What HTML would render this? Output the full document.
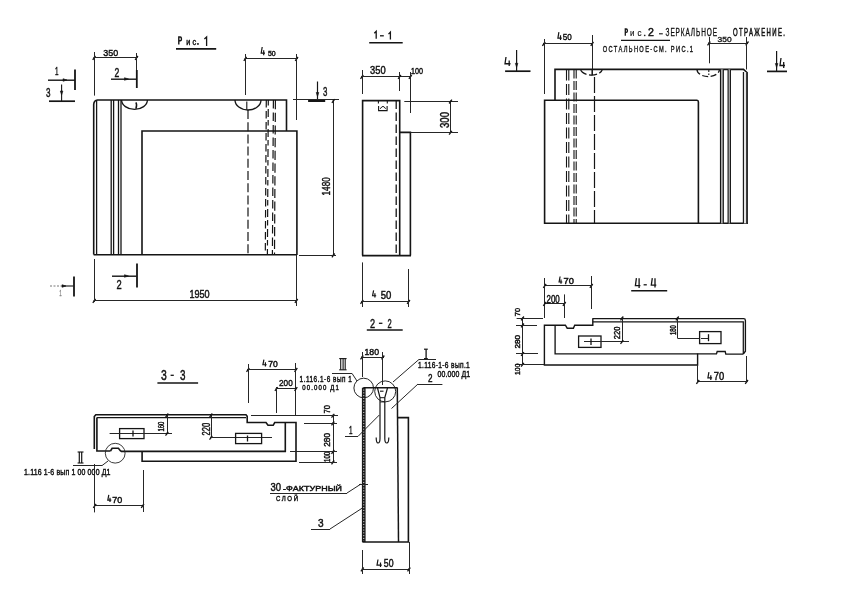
<!DOCTYPE html>
<html><head><meta charset="utf-8"><title>drawing</title>
<style>
html,body{margin:0;padding:0;background:#fff;}
body{width:851px;height:592px;overflow:hidden;}
svg{display:block;will-change:transform;}
text{font-family:"Liberation Sans",sans-serif;}
</style></head>
<body>
<svg width="851" height="592" viewBox="0 0 851 592" stroke-linecap="butt">
<rect x="0" y="0" width="851" height="592" fill="#fff"/>
<path d="M178.8,44.6 L178.8,37 L180.2,37 Q181.4,37 181.4,38.4 L181.4,39.4 Q181.4,40.8 180.2,40.8 L178.8,40.8" stroke="#151515" stroke-width="1.4" fill="none"/>
<text transform="translate(186.2,44.8) scale(0.778,1)" x="0" y="0" font-size="9.43" textLength="5.27" lengthAdjust="spacingAndGlyphs" fill="#111" stroke="#111" stroke-width="0.45" font-weight="normal">и</text>
<text transform="translate(192.6,44.8) scale(0.784,1)" x="0" y="0" font-size="9.43" textLength="4.72" lengthAdjust="spacingAndGlyphs" fill="#111" stroke="#111" stroke-width="0.45" font-weight="normal">с</text>
<rect x="197.6" y="43.6" width="1" height="1" stroke="#151515" stroke-width="0.6" fill="#151515"/>
<path d="M204.4,39 L206.6,37 L206.6,45.9" stroke="#151515" stroke-width="1.3" fill="none"/>
<line x1="176" y1="48.9" x2="216.2" y2="48.9" stroke="#151515" stroke-width="1.6"/>
<line x1="94.2" y1="57.5" x2="137.2" y2="57.5" stroke="#262626" stroke-width="1.0"/>
<line x1="92.7" y1="59.8" x2="95.5" y2="56" stroke="#151515" stroke-width="1.3"/>
<circle cx="94.2" cy="57.5" r="0.8" fill="#151515"/>
<line x1="135.1" y1="59.8" x2="137.9" y2="56" stroke="#151515" stroke-width="1.3"/>
<circle cx="136.6" cy="57.5" r="0.8" fill="#151515"/>
<text transform="translate(103.2,55.7) scale(0.929,1)" x="0" y="0" font-size="9.61" textLength="16.04" lengthAdjust="spacing" fill="#111" stroke="#111" stroke-width="0.45" font-weight="normal">350</text>
<line x1="94.5" y1="52" x2="94.5" y2="95.6" stroke="#262626" stroke-width="1.0"/>
<line x1="136.5" y1="53" x2="136.5" y2="70" stroke="#262626" stroke-width="1.0"/>
<line x1="48" y1="80.2" x2="75" y2="80.2" stroke="#151515" stroke-width="1.4"/>
<path d="M63,78.7 L67,80 L63,81.3 Z" stroke="#151515" stroke-width="0.6" fill="#151515"/>
<line x1="75" y1="69.5" x2="75" y2="90" stroke="#151515" stroke-width="1.8"/>
<text transform="translate(55,75) scale(0.572,1)" x="0" y="0" font-size="11" textLength="6.12" lengthAdjust="spacing" fill="#111" stroke="#111" stroke-width="0.45" font-weight="normal">1</text>
<line x1="49" y1="101.2" x2="75" y2="101.2" stroke="#151515" stroke-width="1.7"/>
<line x1="61.6" y1="84.5" x2="61.6" y2="101" stroke="#151515" stroke-width="1.1"/>
<path d="M60.3,91 L61.6,95 L62.9,91 Z" stroke="#151515" stroke-width="0.6" fill="#151515"/>
<text transform="translate(46,97) scale(0.678,1)" x="0" y="0" font-size="11.93" textLength="6.63" lengthAdjust="spacing" fill="#111" stroke="#111" stroke-width="0.45" font-weight="normal">3</text>
<line x1="111" y1="79.2" x2="136.5" y2="79.2" stroke="#151515" stroke-width="1.4"/>
<path d="M124.5,77.7 L128.5,79 L124.5,80.3 Z" stroke="#151515" stroke-width="0.6" fill="#151515"/>
<line x1="136.8" y1="70" x2="136.8" y2="88" stroke="#151515" stroke-width="1.8"/>
<text transform="translate(114.6,77) scale(0.724,1)" x="0" y="0" font-size="11.93" textLength="6.63" lengthAdjust="spacing" fill="#111" stroke="#111" stroke-width="0.45" font-weight="normal">2</text>
<line x1="245.3" y1="58.5" x2="297.5" y2="58.5" stroke="#262626" stroke-width="1.0"/>
<line x1="243.8" y1="60.8" x2="246.6" y2="57" stroke="#151515" stroke-width="1.3"/>
<circle cx="245.3" cy="58.5" r="0.8" fill="#151515"/>
<line x1="295.2" y1="60.8" x2="298" y2="57" stroke="#151515" stroke-width="1.3"/>
<circle cx="296.7" cy="58.5" r="0.8" fill="#151515"/>
<path d="M262.2,47 L261.2,53.15 L265,53.15 M263.7,50.28 L263.7,55.2" stroke="#151515" stroke-width="1.2" fill="none"/>
<text transform="translate(267.9,55.5) scale(0.892,1)" x="0" y="0" font-size="7.76" textLength="8.63" lengthAdjust="spacing" fill="#111" stroke="#111" stroke-width="0.45" font-weight="normal">50</text>
<line x1="245.5" y1="54" x2="245.5" y2="95" stroke="#262626" stroke-width="1.0"/>
<line x1="296.5" y1="54" x2="296.5" y2="120" stroke="#262626" stroke-width="1.0"/>
<line x1="308.1" y1="101" x2="325.2" y2="101" stroke="#151515" stroke-width="2.0"/>
<line x1="317.5" y1="81.5" x2="317.5" y2="100" stroke="#151515" stroke-width="1.2"/>
<path d="M316.2,92.5 L317.5,96.5 L318.8,92.5 Z" stroke="#151515" stroke-width="0.6" fill="#151515"/>
<text transform="translate(323,96) scale(0.608,1)" x="0" y="0" font-size="13.01" textLength="7.23" lengthAdjust="spacing" fill="#111" stroke="#111" stroke-width="0.45" font-weight="normal">3</text>
<line x1="293" y1="99.5" x2="339" y2="99.5" stroke="#262626" stroke-width="1.0"/>
<line x1="333.5" y1="100.4" x2="333.5" y2="255" stroke="#262626" stroke-width="1.0"/>
<line x1="331.9" y1="102.9" x2="334.7" y2="99.1" stroke="#151515" stroke-width="1.3"/>
<circle cx="333.4" cy="100.6" r="0.8" fill="#151515"/>
<line x1="331.9" y1="257.3" x2="334.7" y2="253.5" stroke="#151515" stroke-width="1.3"/>
<circle cx="333.4" cy="255" r="0.8" fill="#151515"/>
<text transform="translate(329.9,195.4) rotate(-90) scale(0.691,1)" x="0" y="0" font-size="11.77" textLength="26.19" lengthAdjust="spacing" fill="#111" stroke="#111" stroke-width="0.45" font-weight="normal">1480</text>
<line x1="299" y1="255.5" x2="336" y2="255.5" stroke="#262626" stroke-width="1.0"/>
<path d="M93.7,254.6 L93.7,104.5 Q94,100.3 97.5,100 L286.5,100 L286.5,131" stroke="#151515" stroke-width="1.6" fill="none"/>
<line x1="96.6" y1="100" x2="96.6" y2="254.6" stroke="#151515" stroke-width="1.3"/>
<line x1="111.2" y1="100" x2="111.2" y2="254.6" stroke="#151515" stroke-width="1.3"/>
<line x1="113.6" y1="100" x2="113.6" y2="254.6" stroke="#151515" stroke-width="1.3"/>
<line x1="118.5" y1="100" x2="118.5" y2="254.6" stroke="#151515" stroke-width="1.3"/>
<line x1="121" y1="100" x2="121" y2="254.6" stroke="#151515" stroke-width="1.3"/>
<path d="M142,254.6 L142,131 L296.9,131 L296.9,255" stroke="#151515" stroke-width="1.6" fill="none"/>
<line x1="93.6" y1="254.8" x2="296.9" y2="254.8" stroke="#151515" stroke-width="1.6"/>
<path d="M121.6,100 A12.9,9.4 0 0 0 147.4,100" stroke="#151515" stroke-width="1.3" fill="none"/>
<path d="M135.9,102.3 Q137.3,104.5 135.9,108.8" stroke="#151515" stroke-width="1.5" fill="none"/>
<path d="M235,100 A13,10 0 0 0 261,100" stroke="#151515" stroke-width="1.3" fill="none"/>
<line x1="246.8" y1="101.5" x2="246.8" y2="109.5" stroke="#151515" stroke-width="1.1"/>
<line x1="248" y1="110" x2="248" y2="254.6" stroke="#151515" stroke-width="1.2" stroke-dasharray="9 3.2"/>
<line x1="266.3" y1="100" x2="265.3" y2="254.6" stroke="#151515" stroke-width="1.2" stroke-dasharray="7.5 3.5"/>
<line x1="268.3" y1="100" x2="267.4" y2="254.6" stroke="#151515" stroke-width="1.2" stroke-dasharray="5.5 3.5 8 3"/>
<line x1="273.4" y1="100" x2="272.4" y2="254.6" stroke="#151515" stroke-width="1.2" stroke-dasharray="8.5 4"/>
<line x1="275.4" y1="100" x2="274.5" y2="254.6" stroke="#151515" stroke-width="1.2" stroke-dasharray="9.2 3.5"/>
<line x1="112" y1="276.2" x2="136.5" y2="276.2" stroke="#151515" stroke-width="1.4"/>
<path d="M124.5,274.7 L128.5,276 L124.5,277.3 Z" stroke="#151515" stroke-width="0.6" fill="#151515"/>
<line x1="137" y1="263.6" x2="137" y2="287.6" stroke="#151515" stroke-width="1.8"/>
<text transform="translate(116.4,289) scale(0.694,1)" x="0" y="0" font-size="13.47" textLength="7.49" lengthAdjust="spacing" fill="#111" stroke="#111" stroke-width="0.45" font-weight="normal">2</text>
<line x1="50" y1="286" x2="62.5" y2="286" stroke="#777" stroke-width="1.0" stroke-dasharray="2 1.5"/>
<line x1="62.5" y1="286" x2="73.5" y2="286" stroke="#151515" stroke-width="1.1"/>
<path d="M62,284.7 L66,286 L62,287.3 Z" stroke="#151515" stroke-width="0.6" fill="#151515"/>
<line x1="74" y1="276.6" x2="74" y2="296.4" stroke="#151515" stroke-width="1.8"/>
<text transform="translate(59.5,295.6) scale(0.437,1)" x="0" y="0" font-size="8.22" textLength="4.57" lengthAdjust="spacing" fill="#888" stroke="#888" stroke-width="0.45" font-weight="normal">1</text>
<line x1="94" y1="300.5" x2="296.4" y2="300.5" stroke="#262626" stroke-width="1.0"/>
<line x1="92.8" y1="302.8" x2="95.6" y2="299" stroke="#151515" stroke-width="1.3"/>
<circle cx="94.3" cy="300.5" r="0.8" fill="#151515"/>
<line x1="294.9" y1="302.8" x2="297.7" y2="299" stroke="#151515" stroke-width="1.3"/>
<circle cx="296.4" cy="300.5" r="0.8" fill="#151515"/>
<text transform="translate(189.4,297.9) scale(0.775,1)" x="0" y="0" font-size="11.77" textLength="26.19" lengthAdjust="spacing" fill="#111" stroke="#111" stroke-width="0.45" font-weight="normal">1950</text>
<line x1="94.5" y1="259" x2="94.5" y2="302" stroke="#262626" stroke-width="1.0"/>
<line x1="296.5" y1="255" x2="296.5" y2="306" stroke="#262626" stroke-width="1.0"/>
<path d="M374.3,33.3 L376.2,31.3 L376.2,38.7" stroke="#151515" stroke-width="1.3" fill="none"/>
<line x1="380" y1="35.8" x2="383.8" y2="35.8" stroke="#151515" stroke-width="1.3"/>
<path d="M388.5,34.1 L390.4,32.1 L390.4,39.5" stroke="#151515" stroke-width="1.3" fill="none"/>
<line x1="369.2" y1="42.7" x2="402.7" y2="42.7" stroke="#151515" stroke-width="1.5"/>
<line x1="362" y1="76.5" x2="410.4" y2="76.5" stroke="#262626" stroke-width="1.0"/>
<line x1="360.5" y1="78.8" x2="363.3" y2="75" stroke="#151515" stroke-width="1.3"/>
<circle cx="362" cy="76.5" r="0.8" fill="#151515"/>
<line x1="398.1" y1="78.8" x2="400.9" y2="75" stroke="#151515" stroke-width="1.3"/>
<circle cx="399.6" cy="76.5" r="0.8" fill="#151515"/>
<line x1="408.9" y1="78.8" x2="411.7" y2="75" stroke="#151515" stroke-width="1.3"/>
<circle cx="410.4" cy="76.5" r="0.8" fill="#151515"/>
<text transform="translate(370,74) scale(0.900,1)" x="0" y="0" font-size="10.38" textLength="17.32" lengthAdjust="spacing" fill="#111" stroke="#111" stroke-width="0.45" font-weight="normal">350</text>
<text transform="translate(411,74) scale(0.814,1)" x="0" y="0" font-size="8.84" textLength="14.75" lengthAdjust="spacing" fill="#111" stroke="#111" stroke-width="0.45" font-weight="normal">100</text>
<line x1="362.5" y1="70" x2="362.5" y2="94" stroke="#262626" stroke-width="1.0"/>
<line x1="399.5" y1="72" x2="399.5" y2="91" stroke="#262626" stroke-width="1.0"/>
<line x1="410.5" y1="72" x2="410.5" y2="113" stroke="#262626" stroke-width="1.0"/>
<path d="M362.6,255.6 L362.6,100.6 L399.7,100.6 L399.7,255.6" stroke="#151515" stroke-width="1.6" fill="none"/>
<line x1="396.2" y1="100.6" x2="396.2" y2="255.6" stroke="#151515" stroke-width="1.3" stroke-dasharray="8.5 3.5"/>
<path d="M399.7,132.4 L410.4,132.4 L410.4,255.6" stroke="#151515" stroke-width="1.6" fill="none"/>
<line x1="362" y1="255.6" x2="411" y2="255.6" stroke="#151515" stroke-width="1.6"/>
<line x1="378.4" y1="100.6" x2="378.4" y2="103.5" stroke="#151515" stroke-width="1.1"/>
<line x1="387.3" y1="100.6" x2="387.3" y2="103.5" stroke="#151515" stroke-width="1.1"/>
<path d="M378.6,106 L378.6,110.6 L387.1,110.6 L387.1,106" stroke="#151515" stroke-width="1.1" fill="none"/>
<path d="M380.3,108.8 Q383,104 385.6,108.8" stroke="#151515" stroke-width="1.0" fill="none"/>
<line x1="404.3" y1="101.5" x2="458" y2="101.5" stroke="#262626" stroke-width="1.0"/>
<line x1="450.5" y1="101.2" x2="450.5" y2="132.3" stroke="#262626" stroke-width="1.0"/>
<line x1="449.1" y1="103.5" x2="451.9" y2="99.7" stroke="#151515" stroke-width="1.3"/>
<circle cx="450.6" cy="101.2" r="0.8" fill="#151515"/>
<line x1="449.1" y1="134.6" x2="451.9" y2="130.8" stroke="#151515" stroke-width="1.3"/>
<circle cx="450.6" cy="132.3" r="0.8" fill="#151515"/>
<line x1="410.4" y1="132.5" x2="458" y2="132.5" stroke="#262626" stroke-width="1.0"/>
<text transform="translate(449,128) rotate(-90) scale(0.804,1)" x="0" y="0" font-size="11.93" textLength="19.9" lengthAdjust="spacing" fill="#111" stroke="#111" stroke-width="0.45" font-weight="normal">300</text>
<line x1="362" y1="301.5" x2="408.6" y2="301.5" stroke="#262626" stroke-width="1.0"/>
<line x1="360.5" y1="303.8" x2="363.3" y2="300" stroke="#151515" stroke-width="1.3"/>
<circle cx="362" cy="301.5" r="0.8" fill="#151515"/>
<line x1="407.1" y1="303.8" x2="409.9" y2="300" stroke="#151515" stroke-width="1.3"/>
<circle cx="408.6" cy="301.5" r="0.8" fill="#151515"/>
<path d="M373.6,290.4 L372.6,295.73 L376.2,295.73 M374.9,293.24 L374.9,297.5" stroke="#151515" stroke-width="1.2" fill="none"/>
<text transform="translate(380.7,298.5) scale(0.918,1)" x="0" y="0" font-size="10.38" textLength="11.55" lengthAdjust="spacing" fill="#111" stroke="#111" stroke-width="0.45" font-weight="normal">50</text>
<line x1="362.5" y1="262.4" x2="362.5" y2="307" stroke="#262626" stroke-width="1.0"/>
<line x1="408.5" y1="269" x2="408.5" y2="307" stroke="#262626" stroke-width="1.0"/>
<path d="M625.3,35.8 L625.3,29 L626.2,29 Q627.4,29 627.4,30.4 L627.4,31 Q627.4,32.4 626.2,32.4 L625.3,32.4" stroke="#151515" stroke-width="1.3" fill="none"/>
<text transform="translate(630,36.1) scale(0.850,1)" x="0" y="0" font-size="9.39" textLength="6.47" lengthAdjust="spacing" fill="#111" stroke="#111" stroke-width="0.15" font-weight="normal">и</text>
<text transform="translate(637.5,36.1) scale(0.850,1)" x="0" y="0" font-size="9.39" textLength="5.65" lengthAdjust="spacing" fill="#111" stroke="#111" stroke-width="0.15" font-weight="normal">с</text>
<rect x="644.2" y="35" width="0.9" height="0.9" stroke="#151515" stroke-width="0.5" fill="#151515"/>
<text transform="translate(648,36.1) scale(0.917,1)" x="0" y="0" font-size="11.57" textLength="6.44" lengthAdjust="spacing" fill="#111" stroke="#111" stroke-width="0.5" font-weight="normal">2</text>
<line x1="659" y1="33.8" x2="662.8" y2="33.8" stroke="#151515" stroke-width="1.1"/>
<text transform="translate(665.6,36.1) scale(0.600,1)" x="0" y="0" font-size="10.82" textLength="85.67" lengthAdjust="spacing" fill="#111" stroke="#111" stroke-width="0.35" font-weight="normal">ЗЕРКАЛЬНОЕ</text>
<text transform="translate(733,36.2) scale(0.580,1)" x="0" y="0" font-size="10.31" textLength="89.48" lengthAdjust="spacing" fill="#111" stroke="#111" stroke-width="0.55" font-weight="normal">ОТРАЖЕНИЕ.</text>
<line x1="621" y1="40.4" x2="670" y2="40.4" stroke="#151515" stroke-width="1.2"/>
<text transform="translate(602.8,51.6) scale(0.600,1)" x="0" y="0" font-size="9.51" textLength="150.33" lengthAdjust="spacing" fill="#111" stroke="#111" stroke-width="0.4" font-weight="normal">ОСТАЛЬНОЕ-СМ. РИС.1</text>
<line x1="505.1" y1="71.2" x2="530.5" y2="71.2" stroke="#151515" stroke-width="1.7"/>
<line x1="516.6" y1="50" x2="516.6" y2="71" stroke="#151515" stroke-width="1.2"/>
<path d="M515.3,63.3 L516.6,67.3 L517.9,63.3 Z" stroke="#151515" stroke-width="0.6" fill="#151515"/>
<path d="M506,57 L505,63.75 L510.5,63.75 M509.2,60.6 L509.2,66" stroke="#151515" stroke-width="1.3" fill="none"/>
<line x1="767" y1="71.4" x2="787" y2="71.4" stroke="#151515" stroke-width="1.7"/>
<line x1="776.6" y1="51" x2="776.6" y2="71" stroke="#151515" stroke-width="1.2"/>
<path d="M775.3,63.5 L776.6,67.5 L777.9,63.5 Z" stroke="#151515" stroke-width="0.6" fill="#151515"/>
<path d="M781,58 L780,65.5 L785,65.5 M783.7,62 L783.7,68" stroke="#151515" stroke-width="1.3" fill="none"/>
<line x1="543.6" y1="43.5" x2="592.2" y2="43.5" stroke="#262626" stroke-width="1.0"/>
<line x1="542.4" y1="45.8" x2="545.2" y2="42" stroke="#151515" stroke-width="1.3"/>
<circle cx="543.9" cy="43.5" r="0.8" fill="#151515"/>
<line x1="590.7" y1="45.8" x2="593.5" y2="42" stroke="#151515" stroke-width="1.3"/>
<circle cx="592.2" cy="43.5" r="0.8" fill="#151515"/>
<path d="M558.9,32.2 L557.9,38.05 L561.8,38.05 M560.5,35.32 L560.5,40" stroke="#151515" stroke-width="1.2" fill="none"/>
<text transform="translate(562.8,40) scale(0.842,1)" x="0" y="0" font-size="9.61" textLength="10.69" lengthAdjust="spacing" fill="#111" stroke="#111" stroke-width="0.45" font-weight="normal">50</text>
<line x1="544.5" y1="39" x2="544.5" y2="94" stroke="#262626" stroke-width="1.0"/>
<line x1="592.5" y1="35" x2="592.5" y2="75" stroke="#262626" stroke-width="1.0"/>
<line x1="709" y1="43.5" x2="747.4" y2="43.5" stroke="#262626" stroke-width="1.0"/>
<line x1="707.5" y1="45.3" x2="710.3" y2="41.5" stroke="#151515" stroke-width="1.3"/>
<circle cx="709" cy="43" r="0.8" fill="#151515"/>
<line x1="745.7" y1="45.3" x2="748.5" y2="41.5" stroke="#151515" stroke-width="1.3"/>
<circle cx="747.2" cy="43" r="0.8" fill="#151515"/>
<text transform="translate(717.6,41.9) scale(1.160,1)" x="0" y="0" font-size="7.28" textLength="12.15" lengthAdjust="spacing" fill="#111" stroke="#111" stroke-width="0.3" font-weight="normal">350</text>
<line x1="709.5" y1="37" x2="709.5" y2="63.3" stroke="#262626" stroke-width="1.0"/>
<line x1="746.5" y1="37" x2="746.5" y2="69.5" stroke="#262626" stroke-width="1.0"/>
<path d="M555,100.3 L555,69.4 L743.5,69.4 L747,72.5 L747,224" stroke="#151515" stroke-width="1.6" fill="none"/>
<path d="M544.6,224 L544.6,100.3 L697,100.3" stroke="#151515" stroke-width="1.6" fill="none"/>
<path d="M697,100.3 Q698.4,100.4 698.4,102 L698.4,224" stroke="#151515" stroke-width="1.6" fill="none"/>
<line x1="544" y1="223.2" x2="747.5" y2="223.2" stroke="#151515" stroke-width="1.6"/>
<rect x="720.5" y="69.4" width="2.8" height="154" fill="#b8b8b8"/>
<line x1="720.5" y1="69.4" x2="720.5" y2="223.4" stroke="#151515" stroke-width="1.15"/>
<line x1="723.3" y1="69.4" x2="723.3" y2="223.4" stroke="#151515" stroke-width="1.15"/>
<rect x="728.1" y="69.4" width="2.3" height="154" fill="#c0c0c0"/>
<line x1="728.1" y1="69.4" x2="728.1" y2="223.4" stroke="#151515" stroke-width="1.15"/>
<line x1="730.4" y1="69.4" x2="730.4" y2="223.4" stroke="#151515" stroke-width="1.15"/>
<rect x="743.4" y="72" width="3.4" height="151.4" fill="#e4e4e4"/>
<line x1="743.4" y1="72" x2="743.4" y2="223.4" stroke="#151515" stroke-width="1.15"/>
<line x1="746.8" y1="72" x2="746.8" y2="223.4" stroke="#151515" stroke-width="1.15"/>
<path d="M580.6,69.4 A11,6.5 0 0 0 602.4,69.4" stroke="#151515" stroke-width="1.3" fill="none" stroke-dasharray="8 2.5"/>
<line x1="592" y1="69.6" x2="592" y2="75.5" stroke="#151515" stroke-width="1.1"/>
<path d="M697,69.4 A11.2,7.2 0 0 0 719.4,69.4" stroke="#151515" stroke-width="1.3" fill="none" stroke-dasharray="6 2.5"/>
<line x1="708.8" y1="69.6" x2="708.8" y2="75" stroke="#151515" stroke-width="1.1" stroke-dasharray="2.5 1.5"/>
<line x1="566.5" y1="69.4" x2="566.5" y2="223.6" stroke="#151515" stroke-width="1.1" stroke-dasharray="11 3.5"/>
<line x1="568.8" y1="69.4" x2="568.8" y2="223.6" stroke="#151515" stroke-width="1.1" stroke-dasharray="11 3.5"/>
<line x1="574" y1="69.4" x2="574" y2="223.6" stroke="#151515" stroke-width="1.1" stroke-dasharray="9 2.5"/>
<line x1="576.2" y1="69.4" x2="576.2" y2="223.6" stroke="#151515" stroke-width="1.1" stroke-dasharray="9 2.5"/>
<line x1="594.5" y1="77" x2="594.5" y2="223.6" stroke="#151515" stroke-width="1.2" stroke-dasharray="16 3"/>
<path d="M636.4,278.2 L635.4,285.55 L640.4,285.55 M639.1,278.2 L639.1,288" stroke="#151515" stroke-width="1.3" fill="none"/>
<line x1="643.6" y1="284.8" x2="646.8" y2="284.8" stroke="#151515" stroke-width="1.3"/>
<path d="M652.3,278.2 L651.3,285.18 L656.3,285.18 M655,278.2 L655,287.5" stroke="#151515" stroke-width="1.3" fill="none"/>
<line x1="631.2" y1="290.8" x2="667.2" y2="290.8" stroke="#151515" stroke-width="1.5"/>
<line x1="544.3" y1="285.5" x2="591.9" y2="285.5" stroke="#262626" stroke-width="1.0"/>
<line x1="543.3" y1="287.8" x2="546.1" y2="284" stroke="#151515" stroke-width="1.3"/>
<circle cx="544.8" cy="285.5" r="0.8" fill="#151515"/>
<line x1="589.9" y1="287.8" x2="592.7" y2="284" stroke="#151515" stroke-width="1.3"/>
<circle cx="591.4" cy="285.5" r="0.8" fill="#151515"/>
<path d="M560.1,276.5 L559.1,281.98 L562.3,281.98 M561,279.42 L561,283.8" stroke="#151515" stroke-width="1.2" fill="none"/>
<text transform="translate(563.6,284.1) scale(1.076,1)" x="0" y="0" font-size="8.69" textLength="9.66" lengthAdjust="spacing" fill="#111" stroke="#111" stroke-width="0.45" font-weight="normal">70</text>
<line x1="544.5" y1="278" x2="544.5" y2="318" stroke="#262626" stroke-width="1.0"/>
<line x1="591.5" y1="276" x2="591.5" y2="309" stroke="#262626" stroke-width="1.0"/>
<line x1="544.3" y1="303.5" x2="564.4" y2="303.5" stroke="#262626" stroke-width="1.0"/>
<line x1="543.3" y1="305.8" x2="546.1" y2="302" stroke="#151515" stroke-width="1.3"/>
<circle cx="544.8" cy="303.5" r="0.8" fill="#151515"/>
<line x1="562.9" y1="305.8" x2="565.7" y2="302" stroke="#151515" stroke-width="1.3"/>
<circle cx="564.4" cy="303.5" r="0.8" fill="#151515"/>
<text transform="translate(546.5,302.9) scale(0.779,1)" x="0" y="0" font-size="10.23" textLength="17.07" lengthAdjust="spacing" fill="#111" stroke="#111" stroke-width="0.45" font-weight="normal">200</text>
<line x1="564.5" y1="294.4" x2="564.5" y2="318" stroke="#262626" stroke-width="1.0"/>
<line x1="522.5" y1="318" x2="522.5" y2="365" stroke="#262626" stroke-width="1.0"/>
<line x1="521.1" y1="320.3" x2="523.9" y2="316.5" stroke="#151515" stroke-width="1.3"/>
<circle cx="522.6" cy="318" r="0.8" fill="#151515"/>
<line x1="521.1" y1="327.3" x2="523.9" y2="323.5" stroke="#151515" stroke-width="1.3"/>
<circle cx="522.6" cy="325" r="0.8" fill="#151515"/>
<line x1="521.1" y1="355.9" x2="523.9" y2="352.1" stroke="#151515" stroke-width="1.3"/>
<circle cx="522.6" cy="353.6" r="0.8" fill="#151515"/>
<line x1="521.1" y1="366.7" x2="523.9" y2="362.9" stroke="#151515" stroke-width="1.3"/>
<circle cx="522.6" cy="364.4" r="0.8" fill="#151515"/>
<line x1="516.6" y1="318.5" x2="543" y2="318.5" stroke="#262626" stroke-width="1.0"/>
<line x1="516" y1="325.5" x2="537" y2="325.5" stroke="#262626" stroke-width="1.0"/>
<line x1="516" y1="353.5" x2="538" y2="353.5" stroke="#262626" stroke-width="1.0"/>
<line x1="516" y1="364.5" x2="545" y2="364.5" stroke="#262626" stroke-width="1.0"/>
<text transform="translate(520.3,316.2) rotate(-90) scale(1.130,1)" x="0" y="0" font-size="6.53" textLength="7.26" lengthAdjust="spacing" fill="#111" stroke="#111" stroke-width="0.45" font-weight="normal">70</text>
<text transform="translate(519.9,348.6) rotate(-90) scale(1.149,1)" x="0" y="0" font-size="7.14" textLength="11.92" lengthAdjust="spacing" fill="#111" stroke="#111" stroke-width="0.45" font-weight="normal">280</text>
<text transform="translate(519.9,375) rotate(-90) scale(0.965,1)" x="0" y="0" font-size="7.14" textLength="11.92" lengthAdjust="spacing" fill="#111" stroke="#111" stroke-width="0.45" font-weight="normal">100</text>
<path d="M592.8,318.6 L743.6,318.6 Q745.4,318.6 745.4,320.4 L745.4,351.2 L743.3,354" stroke="#151515" stroke-width="1.35" fill="none"/>
<path d="M592.8,321.8 L743.3,321.8 L743.3,354" stroke="#151515" stroke-width="1.25" fill="none"/>
<path d="M592.8,318.2 L592.8,325.2 L574.7,325.2 L573.4,328.2 L567.2,328.2 L565.4,325.2 L544.4,325.2 L544.4,365 L697.6,365 L697.6,353.4" stroke="#151515" stroke-width="1.4" fill="none"/>
<path d="M555.1,325.2 L555.1,353.8 L716.5,353.8 L717.2,351.5 L725.2,351.5 L725.8,354.1 L743.3,354.1" stroke="#151515" stroke-width="1.35" fill="none"/>
<rect x="578.6" y="336" width="22.4" height="11.4" stroke="#151515" stroke-width="1.3" fill="none"/>
<line x1="584" y1="341.5" x2="629" y2="341.5" stroke="#262626" stroke-width="1.0"/>
<line x1="591" y1="338.5" x2="591" y2="345" stroke="#151515" stroke-width="1.3"/>
<line x1="622.5" y1="318" x2="622.5" y2="341.6" stroke="#262626" stroke-width="1.0"/>
<line x1="620.5" y1="320.3" x2="623.3" y2="316.5" stroke="#151515" stroke-width="1.3"/>
<circle cx="622" cy="318" r="0.8" fill="#151515"/>
<line x1="620.5" y1="343.9" x2="623.3" y2="340.1" stroke="#151515" stroke-width="1.3"/>
<circle cx="622" cy="341.6" r="0.8" fill="#151515"/>
<text transform="translate(620,339.3) rotate(-90) scale(0.846,1)" x="0" y="0" font-size="8.99" textLength="15.01" lengthAdjust="spacing" fill="#111" stroke="#111" stroke-width="0.45" font-weight="normal">220</text>
<rect x="699.6" y="331.6" width="21.4" height="12" stroke="#151515" stroke-width="1.3" fill="none"/>
<line x1="708.5" y1="334.2" x2="708.5" y2="341.2" stroke="#151515" stroke-width="1.3"/>
<line x1="701" y1="338.5" x2="708" y2="338.5" stroke="#262626" stroke-width="1.0"/>
<line x1="677.5" y1="318" x2="677.5" y2="338" stroke="#262626" stroke-width="1.0"/>
<line x1="675.9" y1="320.3" x2="678.7" y2="316.5" stroke="#151515" stroke-width="1.3"/>
<circle cx="677.4" cy="318" r="0.8" fill="#151515"/>
<line x1="677.4" y1="338.5" x2="699.6" y2="338.5" stroke="#262626" stroke-width="1.0"/>
<text transform="translate(675.5,335) rotate(-90) scale(0.653,1)" x="0" y="0" font-size="8.99" textLength="15.01" lengthAdjust="spacing" fill="#111" stroke="#111" stroke-width="0.45" font-weight="normal">180</text>
<line x1="697.6" y1="381.5" x2="746.7" y2="381.5" stroke="#262626" stroke-width="1.0"/>
<line x1="696.4" y1="383.8" x2="699.2" y2="380" stroke="#151515" stroke-width="1.3"/>
<circle cx="697.9" cy="381.5" r="0.8" fill="#151515"/>
<line x1="745.2" y1="383.8" x2="748" y2="380" stroke="#151515" stroke-width="1.3"/>
<circle cx="746.7" cy="381.5" r="0.8" fill="#151515"/>
<line x1="697.5" y1="365" x2="697.5" y2="383" stroke="#262626" stroke-width="1.0"/>
<line x1="746.5" y1="356" x2="746.5" y2="383" stroke="#262626" stroke-width="1.0"/>
<path d="M708.9,372.1 L707.9,377.95 L712.1,377.95 M710.8,375.22 L710.8,379.9" stroke="#151515" stroke-width="1.2" fill="none"/>
<text transform="translate(713.7,379.9) scale(0.928,1)" x="0" y="0" font-size="10.07" textLength="11.21" lengthAdjust="spacing" fill="#111" stroke="#111" stroke-width="0.45" font-weight="normal">70</text>
<text transform="translate(161.1,380) scale(0.732,1)" x="0" y="0" font-size="14.24" textLength="7.92" lengthAdjust="spacing" fill="#111" stroke="#111" stroke-width="0.45" font-weight="normal">3</text>
<line x1="170.6" y1="375.3" x2="173.8" y2="375.3" stroke="#151515" stroke-width="1.3"/>
<text transform="translate(179.9,380) scale(0.673,1)" x="0" y="0" font-size="14.7" textLength="8.18" lengthAdjust="spacing" fill="#111" stroke="#111" stroke-width="0.45" font-weight="normal">3</text>
<line x1="157.4" y1="382.9" x2="198.1" y2="382.9" stroke="#151515" stroke-width="1.5"/>
<line x1="248" y1="369.5" x2="296.2" y2="369.5" stroke="#262626" stroke-width="1.0"/>
<line x1="246.5" y1="371.8" x2="249.3" y2="368" stroke="#151515" stroke-width="1.3"/>
<circle cx="248" cy="369.5" r="0.8" fill="#151515"/>
<line x1="294.5" y1="371.8" x2="297.3" y2="368" stroke="#151515" stroke-width="1.3"/>
<circle cx="296" cy="369.5" r="0.8" fill="#151515"/>
<path d="M263.9,359.6 L262.9,364.77 L266.7,364.77 M265.4,362.36 L265.4,366.5" stroke="#151515" stroke-width="1.2" fill="none"/>
<text transform="translate(268.3,366.5) scale(1.001,1)" x="0" y="0" font-size="8.53" textLength="9.49" lengthAdjust="spacing" fill="#111" stroke="#111" stroke-width="0.45" font-weight="normal">70</text>
<line x1="248.5" y1="364" x2="248.5" y2="403" stroke="#262626" stroke-width="1.0"/>
<line x1="295.5" y1="363" x2="295.5" y2="415" stroke="#262626" stroke-width="1.0"/>
<line x1="276.4" y1="388.5" x2="296" y2="388.5" stroke="#262626" stroke-width="1.0"/>
<line x1="274.9" y1="390.9" x2="277.7" y2="387.1" stroke="#151515" stroke-width="1.3"/>
<circle cx="276.4" cy="388.6" r="0.8" fill="#151515"/>
<line x1="294.5" y1="390.9" x2="297.3" y2="387.1" stroke="#151515" stroke-width="1.3"/>
<circle cx="296" cy="388.6" r="0.8" fill="#151515"/>
<text transform="translate(279,386.3) scale(0.854,1)" x="0" y="0" font-size="9.61" textLength="16.04" lengthAdjust="spacing" fill="#111" stroke="#111" stroke-width="0.45" font-weight="normal">200</text>
<line x1="276.5" y1="387" x2="276.5" y2="413" stroke="#262626" stroke-width="1.0"/>
<path d="M94.3,449 L94.3,416.5 L95.8,414.8 L246,414.8 L247.2,416.3 L247.2,422.5 L266,422.5 L268,425.3 L273.2,425.3 L274.7,422.5 L296,422.5 L296,461.2 L142.1,461.2 L142.1,451.4" stroke="#151515" stroke-width="1.6" fill="none"/>
<path d="M96.9,417.6 L246,417.6" stroke="#151515" stroke-width="1.2" fill="none"/>
<path d="M96.9,417.6 L96.9,451 L110.5,451" stroke="#151515" stroke-width="1.6" fill="none"/>
<path d="M110.5,451 L112.1,448.3 L118.4,448.3 L121,451.4" stroke="#151515" stroke-width="1.6" fill="none"/>
<path d="M121,451.4 L285.3,451.4 L285.3,422.5" stroke="#151515" stroke-width="1.6" fill="none"/>
<circle cx="115.2" cy="453.2" r="9.9" stroke="#262626" stroke-width="0.9" fill="none"/>
<rect x="119.6" y="428.6" width="24.4" height="10" stroke="#151515" stroke-width="1.3" fill="none"/>
<line x1="109.6" y1="433.5" x2="172" y2="433.5" stroke="#262626" stroke-width="1.0"/>
<line x1="133" y1="430.5" x2="133" y2="436.5" stroke="#151515" stroke-width="1.3"/>
<line x1="167.5" y1="415" x2="167.5" y2="433.4" stroke="#262626" stroke-width="1.0"/>
<line x1="165.5" y1="417.3" x2="168.3" y2="413.5" stroke="#151515" stroke-width="1.3"/>
<circle cx="167" cy="415" r="0.8" fill="#151515"/>
<line x1="165.5" y1="435.7" x2="168.3" y2="431.9" stroke="#151515" stroke-width="1.3"/>
<circle cx="167" cy="433.4" r="0.8" fill="#151515"/>
<text transform="translate(164.1,431.6) rotate(-90) scale(0.722,1)" x="0" y="0" font-size="8.22" textLength="13.72" lengthAdjust="spacing" fill="#111" stroke="#111" stroke-width="0.45" font-weight="normal">160</text>
<line x1="211.5" y1="415" x2="211.5" y2="437.4" stroke="#262626" stroke-width="1.0"/>
<line x1="209.5" y1="417.3" x2="212.3" y2="413.5" stroke="#151515" stroke-width="1.3"/>
<circle cx="211" cy="415" r="0.8" fill="#151515"/>
<line x1="209.5" y1="439.7" x2="212.3" y2="435.9" stroke="#151515" stroke-width="1.3"/>
<circle cx="211" cy="437.4" r="0.8" fill="#151515"/>
<text transform="translate(209.5,435.4) rotate(-90) scale(0.722,1)" x="0" y="0" font-size="10.54" textLength="17.58" lengthAdjust="spacing" fill="#111" stroke="#111" stroke-width="0.45" font-weight="normal">220</text>
<line x1="210" y1="437.5" x2="272" y2="437.5" stroke="#262626" stroke-width="1.0"/>
<rect x="235.6" y="433.4" width="26" height="10.2" stroke="#151515" stroke-width="1.3" fill="none"/>
<line x1="247.5" y1="435.5" x2="247.5" y2="441.5" stroke="#151515" stroke-width="1.3"/>
<line x1="333.5" y1="415.4" x2="333.5" y2="463" stroke="#262626" stroke-width="1.0"/>
<line x1="331.5" y1="417.7" x2="334.3" y2="413.9" stroke="#151515" stroke-width="1.3"/>
<circle cx="333" cy="415.4" r="0.8" fill="#151515"/>
<line x1="331.5" y1="425.3" x2="334.3" y2="421.5" stroke="#151515" stroke-width="1.3"/>
<circle cx="333" cy="423" r="0.8" fill="#151515"/>
<line x1="331.5" y1="453.8" x2="334.3" y2="450" stroke="#151515" stroke-width="1.3"/>
<circle cx="333" cy="451.5" r="0.8" fill="#151515"/>
<line x1="331.5" y1="464.3" x2="334.3" y2="460.5" stroke="#151515" stroke-width="1.3"/>
<circle cx="333" cy="462" r="0.8" fill="#151515"/>
<line x1="251" y1="415.5" x2="338" y2="415.5" stroke="#262626" stroke-width="1.0"/>
<line x1="304" y1="423.5" x2="337" y2="423.5" stroke="#262626" stroke-width="1.0"/>
<line x1="290" y1="451.5" x2="337" y2="451.5" stroke="#262626" stroke-width="1.0"/>
<line x1="299" y1="462.5" x2="337" y2="462.5" stroke="#262626" stroke-width="1.0"/>
<text transform="translate(329.5,413.4) rotate(-90) scale(0.840,1)" x="0" y="0" font-size="8.99" textLength="10.01" lengthAdjust="spacing" fill="#111" stroke="#111" stroke-width="0.45" font-weight="normal">70</text>
<text transform="translate(329.5,446.8) rotate(-90) scale(0.926,1)" x="0" y="0" font-size="8.99" textLength="15.01" lengthAdjust="spacing" fill="#111" stroke="#111" stroke-width="0.45" font-weight="normal">280</text>
<text transform="translate(329.5,461.9) rotate(-90) scale(0.736,1)" x="0" y="0" font-size="8.22" textLength="13.72" lengthAdjust="spacing" fill="#111" stroke="#111" stroke-width="0.45" font-weight="normal">100</text>
<line x1="77.6" y1="452" x2="83.5" y2="452" stroke="#151515" stroke-width="1.1"/>
<line x1="77.6" y1="463" x2="83.5" y2="463" stroke="#151515" stroke-width="1.1"/>
<line x1="79.3" y1="452" x2="79.3" y2="463" stroke="#151515" stroke-width="1.2"/>
<line x1="81.7" y1="452" x2="81.7" y2="463" stroke="#151515" stroke-width="1.2"/>
<line x1="73" y1="465.5" x2="102" y2="465.5" stroke="#262626" stroke-width="1.0"/>
<line x1="102" y1="465.6" x2="108" y2="461" stroke="#262626" stroke-width="1.0"/>
<text transform="translate(24.1,475) scale(0.750,1)" x="0" y="0" font-size="9.31" textLength="115.2" lengthAdjust="spacing" fill="#111" stroke="#111" stroke-width="0.45" font-weight="normal">1.116 1-6 вып 1 00 000 Д1</text>
<line x1="94.8" y1="505.5" x2="142.7" y2="505.5" stroke="#262626" stroke-width="1.0"/>
<line x1="93.3" y1="507.8" x2="96.1" y2="504" stroke="#151515" stroke-width="1.3"/>
<circle cx="94.8" cy="505.5" r="0.8" fill="#151515"/>
<line x1="141.2" y1="507.8" x2="144" y2="504" stroke="#151515" stroke-width="1.3"/>
<circle cx="142.7" cy="505.5" r="0.8" fill="#151515"/>
<path d="M108.8,494.8 L107.8,500.2 L111.3,500.2 M110,497.68 L110,502" stroke="#151515" stroke-width="1.2" fill="none"/>
<text transform="translate(112.3,502.6) scale(0.999,1)" x="0" y="0" font-size="8.99" textLength="10.01" lengthAdjust="spacing" fill="#111" stroke="#111" stroke-width="0.45" font-weight="normal">70</text>
<line x1="94.5" y1="464" x2="94.5" y2="512.4" stroke="#262626" stroke-width="1.0"/>
<line x1="143.5" y1="470" x2="143.5" y2="512" stroke="#262626" stroke-width="1.0"/>
<text transform="translate(299.6,381.9) scale(0.750,1)" x="0" y="0" font-size="8.52" textLength="69.73" lengthAdjust="spacing" fill="#111" stroke="#111" stroke-width="0.45" font-weight="normal">1.116.1-6 вып 1</text>
<text transform="translate(302.3,390) scale(0.750,1)" x="0" y="0" font-size="8.05" textLength="48.8" lengthAdjust="spacing" fill="#111" stroke="#111" stroke-width="0.45" font-weight="normal">00.000 Д1</text>
<text transform="translate(369.9,327.8) scale(0.697,1)" x="0" y="0" font-size="13.16" textLength="7.32" lengthAdjust="spacing" fill="#111" stroke="#111" stroke-width="0.45" font-weight="normal">2</text>
<line x1="378.9" y1="323.3" x2="382.4" y2="323.3" stroke="#151515" stroke-width="1.3"/>
<text transform="translate(387.4,327.8) scale(0.595,1)" x="0" y="0" font-size="12.7" textLength="7.06" lengthAdjust="spacing" fill="#111" stroke="#111" stroke-width="0.45" font-weight="normal">2</text>
<line x1="366.8" y1="329.9" x2="402.7" y2="329.9" stroke="#151515" stroke-width="1.5"/>
<line x1="362" y1="357.5" x2="384" y2="357.5" stroke="#262626" stroke-width="1.0"/>
<line x1="360.5" y1="359.3" x2="363.3" y2="355.5" stroke="#151515" stroke-width="1.3"/>
<circle cx="362" cy="357" r="0.8" fill="#151515"/>
<line x1="381.5" y1="359.3" x2="384.3" y2="355.5" stroke="#151515" stroke-width="1.3"/>
<circle cx="383" cy="357" r="0.8" fill="#151515"/>
<text transform="translate(364.4,355) scale(0.990,1)" x="0" y="0" font-size="8.84" textLength="14.75" lengthAdjust="spacing" fill="#111" stroke="#111" stroke-width="0.45" font-weight="normal">180</text>
<line x1="362.5" y1="352" x2="362.5" y2="377" stroke="#262626" stroke-width="1.0"/>
<line x1="382.5" y1="352" x2="382.5" y2="385" stroke="#262626" stroke-width="1.0"/>
<circle cx="363.7" cy="388" r="9.8" stroke="#262626" stroke-width="1.0" fill="none"/>
<circle cx="385.2" cy="391.4" r="10.5" stroke="#262626" stroke-width="1.0" fill="none"/>
<line x1="363.3" y1="387.7" x2="397.6" y2="387.7" stroke="#151515" stroke-width="1.5"/>
<rect x="361.9" y="387.7" width="3.7" height="154.3" fill="#1a1a1a"/>
<line x1="363.75" y1="389.5" x2="363.75" y2="541" stroke="#e8e8e8" stroke-width="1.0" stroke-dasharray="1.1 1.7"/>
<line x1="397.3" y1="387.7" x2="398.5" y2="542" stroke="#151515" stroke-width="1.5"/>
<path d="M397.4,417.6 L408.4,417.6 L408.4,542" stroke="#151515" stroke-width="1.6" fill="none"/>
<line x1="362.4" y1="542" x2="409" y2="542" stroke="#151515" stroke-width="1.4"/>
<path d="M377.5,388 L380,397.7 L380,438.5 Q380,443 378,443 Q376.2,443 376.2,437.5" stroke="#151515" stroke-width="1.2" fill="none"/>
<path d="M387.5,388 L384.8,397.7 L384.8,438.5 Q384.8,443 386.8,443 Q388.8,443 388.8,437.5" stroke="#151515" stroke-width="1.2" fill="none"/>
<line x1="380" y1="391.2" x2="383.5" y2="391.2" stroke="#151515" stroke-width="1.1"/>
<line x1="380" y1="397.7" x2="384.8" y2="397.7" stroke="#151515" stroke-width="1.0"/>
<line x1="380" y1="402" x2="384.8" y2="402" stroke="#151515" stroke-width="0.8"/>
<line x1="339.2" y1="358.6" x2="346.6" y2="358.6" stroke="#151515" stroke-width="1.1"/>
<line x1="339.2" y1="369.8" x2="346.6" y2="369.8" stroke="#151515" stroke-width="1.1"/>
<line x1="340.7" y1="358.6" x2="340.7" y2="369.8" stroke="#151515" stroke-width="1.1"/>
<line x1="343.1" y1="358.6" x2="343.1" y2="369.8" stroke="#151515" stroke-width="1.1"/>
<line x1="345.2" y1="358.6" x2="345.2" y2="369.8" stroke="#151515" stroke-width="1.1"/>
<line x1="332" y1="373.5" x2="352" y2="373.5" stroke="#262626" stroke-width="1.0"/>
<line x1="352" y1="373.4" x2="357" y2="381" stroke="#262626" stroke-width="1.0"/>
<line x1="424" y1="349.2" x2="427.8" y2="349.2" stroke="#151515" stroke-width="1.2"/>
<line x1="424" y1="358.6" x2="427.8" y2="358.6" stroke="#151515" stroke-width="1.2"/>
<line x1="426.1" y1="349.2" x2="426.1" y2="358.6" stroke="#151515" stroke-width="1.3"/>
<line x1="419" y1="359.5" x2="436" y2="359.5" stroke="#262626" stroke-width="1.0"/>
<line x1="419" y1="359.4" x2="393" y2="382" stroke="#262626" stroke-width="1.0"/>
<text transform="translate(418,367.9) scale(0.750,1)" x="0" y="0" font-size="8.84" textLength="69.07" lengthAdjust="spacing" fill="#111" stroke="#111" stroke-width="0.45" font-weight="normal">1.116-1-6 вып.1</text>
<text transform="translate(437.4,377) scale(0.750,1)" x="0" y="0" font-size="9.31" textLength="43.73" lengthAdjust="spacing" fill="#111" stroke="#111" stroke-width="0.45" font-weight="normal">00.000 Д1</text>
<text transform="translate(428,382) scale(0.779,1)" x="0" y="0" font-size="10.38" textLength="5.77" lengthAdjust="spacing" fill="#111" stroke="#111" stroke-width="0.45" font-weight="normal">2</text>
<line x1="418" y1="384.5" x2="442.4" y2="384.5" stroke="#262626" stroke-width="1.0"/>
<line x1="418" y1="384" x2="391.5" y2="408.5" stroke="#262626" stroke-width="1.0"/>
<text transform="translate(349,434.4) scale(0.572,1)" x="0" y="0" font-size="11" textLength="6.12" lengthAdjust="spacing" fill="#111" stroke="#111" stroke-width="0.45" font-weight="normal">1</text>
<line x1="345" y1="436.5" x2="358" y2="436.5" stroke="#262626" stroke-width="1.0"/>
<line x1="358" y1="436.4" x2="379.3" y2="415" stroke="#262626" stroke-width="1.0"/>
<text transform="translate(270.4,491.4) scale(0.866,1)" x="0" y="0" font-size="11" textLength="12.24" lengthAdjust="spacing" fill="#111" stroke="#111" stroke-width="0.45" font-weight="normal">30</text>
<text transform="translate(283,491.4) scale(1.200,1)" x="0" y="0" font-size="7.43" textLength="49.17" lengthAdjust="spacing" fill="#111" stroke="#111" stroke-width="0.45" font-weight="normal">-ФАКТУРНЫЙ</text>
<line x1="270" y1="493.5" x2="347" y2="493.5" stroke="#262626" stroke-width="1.0"/>
<line x1="347" y1="493" x2="361" y2="484" stroke="#262626" stroke-width="1.0"/>
<line x1="359" y1="484.5" x2="368" y2="484.5" stroke="#262626" stroke-width="1.0"/>
<text transform="translate(276,500.6) scale(0.750,1)" x="0" y="0" font-size="8.05" textLength="29.33" lengthAdjust="spacing" fill="#111" stroke="#111" stroke-width="0.45" font-weight="normal">СЛОЙ</text>
<text transform="translate(318,527) scale(0.970,1)" x="0" y="0" font-size="10.38" textLength="5.77" lengthAdjust="spacing" fill="#111" stroke="#111" stroke-width="0.45" font-weight="normal">3</text>
<line x1="311" y1="529.5" x2="330" y2="529.5" stroke="#262626" stroke-width="1.0"/>
<line x1="330" y1="529" x2="362.4" y2="508" stroke="#262626" stroke-width="1.0"/>
<line x1="362.4" y1="569.5" x2="409" y2="569.5" stroke="#262626" stroke-width="1.0"/>
<line x1="360.9" y1="571.3" x2="363.7" y2="567.5" stroke="#151515" stroke-width="1.3"/>
<circle cx="362.4" cy="569" r="0.8" fill="#151515"/>
<line x1="407.5" y1="571.3" x2="410.3" y2="567.5" stroke="#151515" stroke-width="1.3"/>
<circle cx="409" cy="569" r="0.8" fill="#151515"/>
<line x1="362.5" y1="550" x2="362.5" y2="574" stroke="#262626" stroke-width="1.0"/>
<line x1="409.5" y1="542" x2="409.5" y2="574" stroke="#262626" stroke-width="1.0"/>
<path d="M378,559.5 L377,565.05 L381.8,565.05 M380.5,562.46 L380.5,566.9" stroke="#151515" stroke-width="1.2" fill="none"/>
<text transform="translate(383.8,566.9) scale(0.793,1)" x="0" y="0" font-size="11" textLength="12.24" lengthAdjust="spacing" fill="#111" stroke="#111" stroke-width="0.45" font-weight="normal">50</text>
</svg>
</body></html>
